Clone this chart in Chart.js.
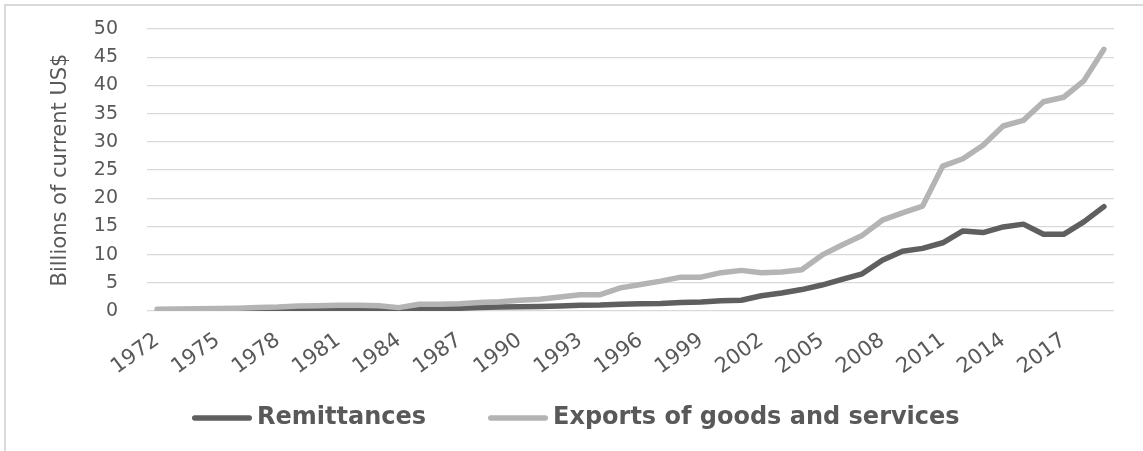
<!DOCTYPE html>
<html>
<head>
<meta charset="utf-8">
<script src="https://cdn.jsdelivr.net/npm/chart.js@4.4.1/dist/chart.umd.min.js"></script>
<style>
  html, body { margin: 0; padding: 0; background: #ffffff; }
  #chart { display: block; }
</style>
</head>
<body>
<canvas id="chart" width="1143" height="451"></canvas>
<script>
// Years on the category axis (1972–2019)
const years = [
  1972, 1973, 1974, 1975, 1976, 1977, 1978, 1979, 1980, 1981,
  1982, 1983, 1984, 1985, 1986, 1987, 1988, 1989, 1990, 1991,
  1992, 1993, 1994, 1995, 1996, 1997, 1998, 1999, 2000, 2001,
  2002, 2003, 2004, 2005, 2006, 2007, 2008, 2009, 2010, 2011,
  2012, 2013, 2014, 2015, 2016, 2017, 2018, 2019
];

// Years that carry a tick label
const labelledYears = [1972, 1975, 1978, 1981, 1984, 1987, 1990, 1993, 1996, 1999, 2002, 2005, 2008, 2011, 2014, 2017];

// Remittances, billions of current US$ (no data before 1976)
const remittances = [
  null, null, null, null, 0.05, 0.1, 0.15, 0.2, 0.25, 0.3,
  0.35, 0.35, 0.1, 0.2, 0.3, 0.5, 0.6, 0.7, 0.75, 0.8,
  0.9, 1.0, 1.05, 1.2, 1.3, 1.35, 1.5, 1.6, 1.8, 1.9,
  2.7, 3.2, 3.8, 4.6, 5.6, 6.6, 9.0, 10.6, 11.1, 12.1,
  14.2, 13.9, 14.9, 15.4, 13.6, 13.6, 15.8, 18.5
];

// Exports of goods and services, billions of current US$
const exportsGS = [
  0.3, 0.35, 0.4, 0.45, 0.5, 0.6, 0.7, 0.9, 0.95, 1.0,
  1.0, 0.95, 0.6, 1.2, 1.2, 1.3, 1.5, 1.65, 1.9, 2.1,
  2.5, 2.9, 2.9, 4.1, 4.7, 5.3, 6.0, 6.0, 6.8, 7.2,
  6.8, 6.9, 7.3, 9.9, 11.7, 13.4, 16.1, 17.4, 18.6, 25.7,
  27.0, 29.4, 32.8, 33.8, 37.1, 37.9, 40.8, 46.4
];

// Y-axis tick values
const yTicks = [0, 5, 10, 15, 20, 25, 30, 35, 40, 45, 50];

const textGray = '#595959';
const gridGray = '#d9d9d9';
const fontFamily = '"DejaVu Sans", "Open Sans", sans-serif';

// Thin frame along the top and left edges of the chart object
const framePlugin = {
  id: 'frame',
  beforeDraw(chart) {
    const ctx = chart.ctx;
    ctx.save();
    ctx.strokeStyle = gridGray;
    ctx.lineWidth = 2;
    ctx.beginPath();
    ctx.moveTo(5, chart.height);
    ctx.lineTo(5, 5);
    ctx.lineTo(chart.width, 5);
    ctx.stroke();
    ctx.restore();
  }
};

// Legend row under the axis: a short rounded line swatch followed by the series name
const lineLegendPlugin = {
  id: 'lineLegend',
  afterDraw(chart, args, opts) {
    const ctx = chart.ctx;
    ctx.save();
    ctx.font = `bold ${opts.fontSize}px ${fontFamily}`;
    ctx.textBaseline = 'middle';
    ctx.textAlign = 'left';
    let x = opts.startX;
    const y = opts.y;
    chart.data.datasets.forEach(ds => {
      const cap = opts.lineWidth / 2;
      ctx.strokeStyle = ds.borderColor;
      ctx.lineWidth = opts.lineWidth;
      ctx.lineCap = 'round';
      ctx.beginPath();
      ctx.moveTo(x + cap, y);
      ctx.lineTo(x + opts.swatch - cap, y);
      ctx.stroke();
      const tx = x + opts.swatch + opts.textGap;
      ctx.fillStyle = textGray;
      ctx.fillText(ds.label, tx, y);
      x = tx + ctx.measureText(ds.label).width + opts.itemGap;
    });
    ctx.restore();
  }
};

new Chart(document.getElementById('chart'), {
  type: 'line',
  data: {
    labels: years,
    datasets: [
      {
        label: 'Remittances',
        data: remittances,
        borderColor: '#5f5f5f',
        backgroundColor: '#5f5f5f',
        borderWidth: 5.5,
        pointRadius: 0,
        borderCapStyle: 'round',
        borderJoinStyle: 'round',
        tension: 0,
        order: 1
      },
      {
        label: 'Exports of goods and services',
        data: exportsGS,
        borderColor: '#b4b4b4',
        backgroundColor: '#b4b4b4',
        borderWidth: 5.5,
        pointRadius: 0,
        borderCapStyle: 'round',
        borderJoinStyle: 'round',
        tension: 0,
        order: 0
      }
    ]
  },
  options: {
    responsive: false,
    animation: false,
    events: [],
    layout: { padding: { top: 29, right: 29, bottom: 71, left: 30 } },
    scales: {
      x: {
        type: 'category',
        offset: true,
        grid: { display: false },
        border: { display: false },
        ticks: {
          autoSkip: false,
          minRotation: 36,
          maxRotation: 36,
          padding: 9,
          color: textGray,
          font: { family: fontFamily, size: 21 },
          callback(value, index) {
            const y = years[index];
            return labelledYears.includes(y) ? String(y) : '';
          }
        },
        afterFit(scale) { scale.height = 69; }
      },
      y: {
        min: 0,
        max: 50,
        afterBuildTicks(scale) { scale.ticks = yTicks.map(v => ({ value: v })); },
        grid: {
          color: gridGray,
          lineWidth: 1.2,
          drawTicks: true,
          tickLength: 29,
          tickColor: 'rgba(0,0,0,0)'
        },
        border: { display: false },
        ticks: {
          autoSkip: false,
          padding: 0,
          color: textGray,
          font: { family: fontFamily, size: 19 }
        },
        title: {
          display: true,
          text: 'Billions of current US$',
          color: textGray,
          font: { family: fontFamily, size: 21 },
          padding: { top: 18, bottom: 0 }
        },
        afterFit(scale) { scale.width = 117; }
      }
    },
    plugins: {
      legend: { display: false },
      tooltip: { enabled: false },
      lineLegend: {
        startX: 192,
        y: 418,
        swatch: 60,
        lineWidth: 5.5,
        textGap: 5,
        itemGap: 62,
        fontSize: 24
      }
    }
  },
  plugins: [framePlugin, lineLegendPlugin]
});
</script>
</body>
</html>
